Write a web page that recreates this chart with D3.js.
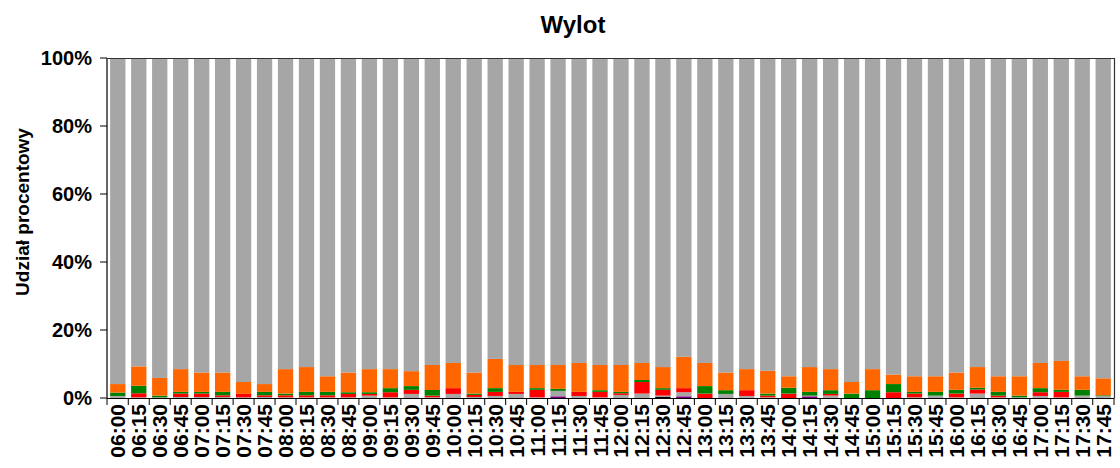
<!DOCTYPE html>
<html><head><meta charset="utf-8">
<script src="https://cdn.jsdelivr.net/npm/d3@7/dist/d3.min.js"></script>
<style>body{margin:0;background:#fff}svg{display:block}text{font-family:"Liberation Sans",Arial,sans-serif;font-weight:bold;fill:#000}</style>
</head><body><svg id="c" width="1120" height="468"></svg>
<script>
const categories = ["06:00","06:15","06:30","06:45","07:00","07:15","07:30","07:45","08:00","08:15","08:30","08:45","09:00","09:15","09:30","09:45","10:00","10:15","10:30","10:45","11:00","11:15","11:30","11:45","12:00","12:15","12:30","12:45","13:00","13:15","13:30","13:45","14:00","14:15","14:30","14:45","15:00","15:15","15:30","15:45","16:00","16:15","16:30","16:45","17:00","17:15","17:30","17:45"];
const purple = [0,0,0,0,0,0,0,0,0,0,0,0, 0,0,0,0,0,0,0,0,0,0.5,0,0, 0,0,0,0.5,0,0,0,0,0,0.5,0,0, 0,0,0,0,0,0,0,0,0,0,0,0];
const black  = [0,0,0,0,0,0,0,0,0,0,0,0, 0,0,0,0,0,0,0,0,0,0,0,0, 0,0,0.4,0,0,0,0,0,0,0,0,0, 0,0,0,0,0,0,0,0,0,0,0,0];
const grayLow = [0.6,0.2,0.2,0.3,0.3,0.3,0.2,0.3,0.2,0.2,0.2,0.2, 0.7,0.2,1.2,0.2,1.2,0.3,0.6,1.2,0.2,1.6,0.6,0.2, 0.9,1.3,0.3,1.2,0,1.2,0.6,0.2,0,0.2,0.7,0, 0,0,0.2,0.7,0.2,1.3,0.2,0.2,0.6,0.2,0.7,0.6];
const red    = [0,1.2,0,1.0,1.0,0.5,1.0,0.5,0.6,0.6,0.6,1.0, 0.5,1.5,1.2,0.5,1.7,0.6,1.2,0.6,2.2,0,1.2,1.6, 0.5,3.4,1.7,1.2,1.3,0,1.7,0.5,1.3,0,0.5,0, 0,1.7,1.1,0,1.1,1.2,0.5,0,1.1,1.6,0,0];
const green  = [1.0,2.2,0.5,0.5,0.5,1.0,0,1.0,0.5,1.0,1.0,0.5, 0.5,1.2,1.1,1.65,0,0.4,1.1,0,0.5,0.6,0,0.5, 0.4,0.6,0.5,0,2.2,1.1,0,0.6,1.7,1.1,1.1,1.3, 2.3,2.4,0.5,1.1,1.1,0.5,1.1,0.5,1.2,0.6,1.7,0.2];
const orange = [2.5,5.7,5.2,6.7,5.7,5.7,3.5,2.3,7.2,7.3,4.6,5.8, 6.8,5.6,4.4,7.35,7.4,6.2,8.6,7.9,6.8,7.0,8.5,7.4, 7.9,5.0,6.2,9.2,6.8,5.2,6.2,6.7,3.4,7.3,6.2,3.4, 6.2,2.8,4.6,4.6,5.1,6.1,4.6,5.7,7.4,8.5,4.0,5.0];
const grayTop = [95.9,90.7,94.1,91.5,92.5,92.5,95.3,95.9,91.5,90.9,93.6,92.5, 91.5,91.5,92.1,90.3,89.7,92.5,88.5,90.3,90.3,90.3,89.7,90.3, 90.3,89.7,90.9,87.9,89.7,92.5,91.5,92.0,93.6,90.9,91.5,95.3, 91.5,93.1,93.6,93.6,92.5,90.9,93.6,93.6,89.7,89.1,93.6,94.2];
const yTicks = [0,20,40,60,80,100];
const title = "Wylot";
const yTitle = "Udział procentowy";

const series = [
  {key:"purple", vals:purple, color:"#800080"},
  {key:"black", vals:black, color:"#000000"},
  {key:"grayLow", vals:grayLow, color:"#a6a6a6"},
  {key:"red", vals:red, color:"#ff0000"},
  {key:"green", vals:green, color:"#008000"},
  {key:"orange", vals:orange, color:"#ff6600"},
  {key:"grayTop", vals:grayTop, color:"#a6a6a6"}
];
const rows = categories.map((c,i)=>{const r={cat:c}; series.forEach(s=>r[s.key]=s.vals[i]); return r;});
const stack = d3.stack().keys(series.map(s=>s.key)).offset(d3.stackOffsetExpand)(rows);

const L=107, R=1114, T=58, B=398;
const svg = d3.select("#c");
const x = d3.scaleBand().domain(categories).range([L,R]).paddingInner(0.27).paddingOuter(0.15);
const y = d3.scaleLinear().domain([0,1]).range([B,T]);

svg.append("g").selectAll("g").data(stack).join("g")
  .attr("fill",(d,i)=>series[i].color)
  .selectAll("rect").data(d=>d).join("rect")
  .attr("x",d=>x(d.data.cat)).attr("width",x.bandwidth())
  .attr("y",d=>y(d[1])).attr("height",d=>Math.max(0,y(d[0])-y(d[1])));

svg.append("path").attr("d",`M${L},${T+0.5}H${R+0.5}V${B}`).attr("fill","none").attr("stroke","#333").attr("stroke-width",1.2);
svg.append("line").attr("x1",L).attr("x2",L).attr("y1",T).attr("y2",B).attr("stroke","#333").attr("stroke-width",1.5);
yTicks.forEach(t=>{
  svg.append("line").attr("x1",L-7).attr("x2",L).attr("y1",y(t/100)).attr("y2",y(t/100)).attr("stroke","#000");
  svg.append("text").attr("x",92).attr("y",y(t/100)).attr("text-anchor","end")
    .attr("dominant-baseline","central").attr("font-size","20px").text(t+"%");
});
svg.append("line").attr("x1",L).attr("x2",R).attr("y1",B+0.5).attr("y2",B+0.5).attr("stroke","#000").attr("stroke-width",1.2);
const step = x.step();
const bounds = d3.range(categories.length+1).map(i=> i===0?L:(i===categories.length?R:x(categories[i])-(step-x.bandwidth())/2));
bounds.forEach(b=>svg.append("line").attr("x1",b).attr("x2",b).attr("y1",B).attr("y2",B+7).attr("stroke","#000"));
categories.forEach(c=>{
  svg.append("text").attr("transform",`translate(${x(c)+x.bandwidth()/2},404) rotate(-90)`)
   .attr("text-anchor","end").attr("dominant-baseline","central").attr("font-size","21px").text(c);
});
svg.append("text").attr("x",573).attr("y",33).attr("text-anchor","middle").attr("font-size","24px").text(title);
svg.append("text").attr("transform",`translate(22,212) rotate(-90)`).attr("text-anchor","middle").attr("dominant-baseline","central").attr("font-size","19px").text(yTitle);
</script></body></html>
